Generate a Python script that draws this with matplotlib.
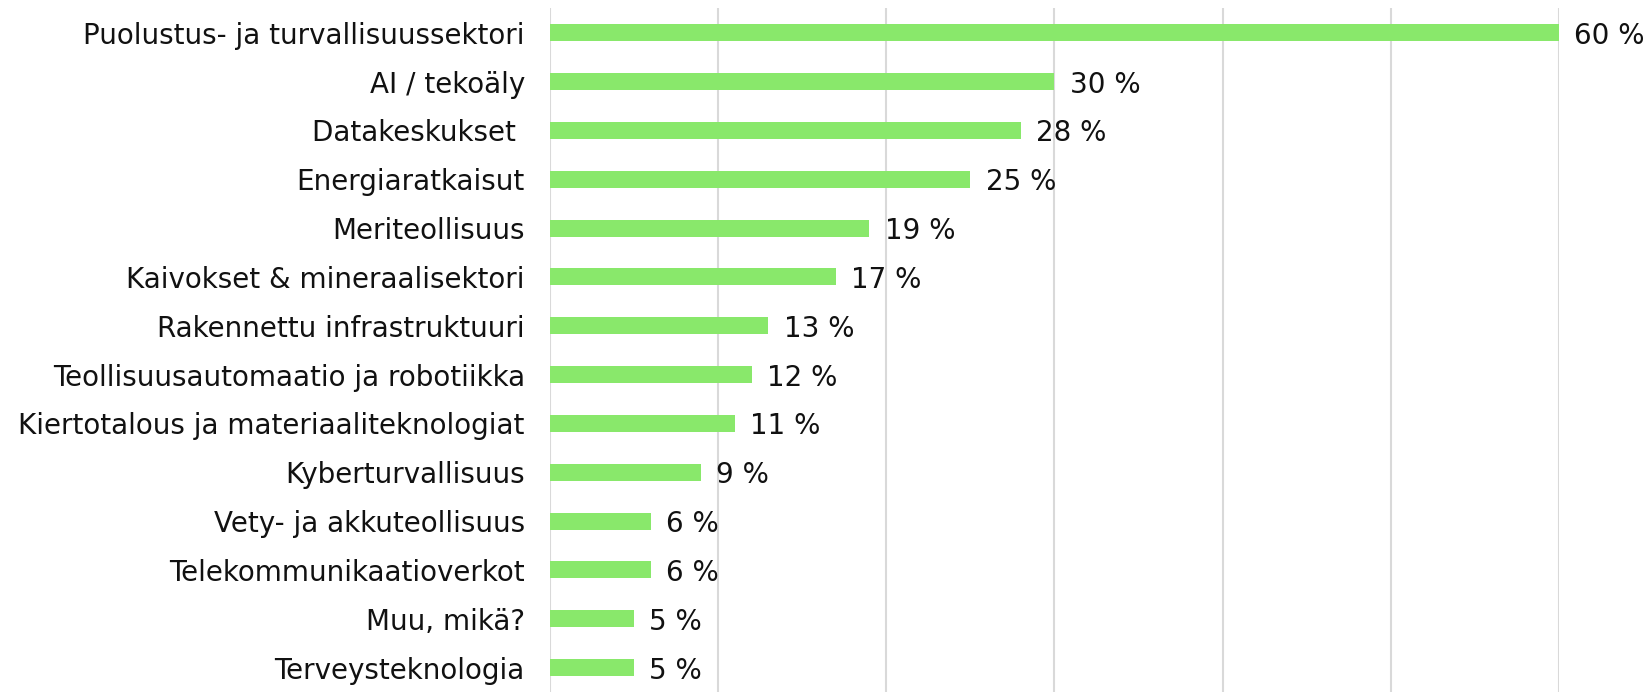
import matplotlib.pyplot as plt
import numpy as np

plt.rcParams.update({
    "font.family": "DejaVu Sans"})

sectors = ["Puolustus- ja turvallisuussektori", "AI / tekoäly", "Datakeskukset ",
           "Energiaratkaisut", "Meriteollisuus", "Kaivokset & mineraalisektori",
           "Rakennettu infrastruktuuri", "Teollisuusautomaatio ja robotiikka",
           "Kiertotalous ja materiaaliteknologiat", "Kyberturvallisuus",
           "Vety- ja akkuteollisuus", "Telekommunikaatioverkot", "Muu, mikä?",
           "Terveysteknologia"]
shares = [60, 30, 28, 25, 19, 17, 13, 12, 11, 9, 6, 6, 5, 5]
ticks = [0, 10, 20, 30, 40, 50, 60]

fig = plt.figure(figsize=(16.51, 6.92), dpi=100)
ax = fig.add_axes([0.333, 0.0, 0.6113, 0.988])

y = np.arange(len(sectors))
ax.barh(y, shares, height=0.35, color="#89E86B", zorder=2)

ax.set_xlim(0, 60)
ax.set_ylim(len(sectors) - 0.5, -0.5)
ax.set_xticks(ticks)
ax.set_yticks(y)
ax.set_yticklabels(sectors, fontsize=20, color="#111111")
ax.tick_params(axis="y", length=0, pad=18)
ax.tick_params(axis="x", length=0, labelbottom=False)
ax.grid(axis="x", color="#d9d9d9", linewidth=1.5, zorder=0)
for s in ax.spines.values():
    s.set_visible(False)

# value labels to the right of each bar
for yi, v in zip(y, shares):
    ax.annotate(f"{v} %", (v, yi), xytext=(11, 0), textcoords="offset points",
                ha="left", va="center_baseline", fontsize=20, color="#111111",
                annotation_clip=False)

plt.savefig("out.png")
